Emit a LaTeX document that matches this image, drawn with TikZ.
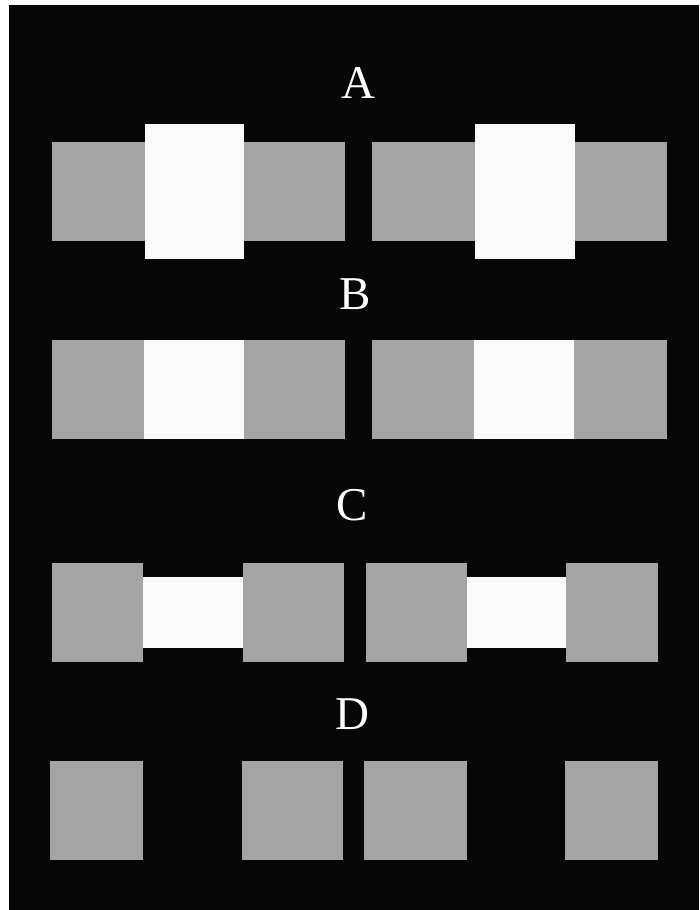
\documentclass[tikz,border=0pt]{standalone}
\usepackage{fontspec}
\setmainfont{Liberation Serif}
\definecolor{bgdark}{HTML}{070707}
\definecolor{patchgray}{HTML}{A4A4A4}
\definecolor{barwhite}{HTML}{FAFAFA}

\begin{document}
\begin{tikzpicture}[
  x=1pt,y=-1pt,
  patch/.style={fill=patchgray,inner sep=0pt,minimum height=99pt},
  bar/.style={fill=barwhite,inner sep=0pt},
  lbl/.style={text=white,inner sep=0pt,font=\fontsize{47}{47}\selectfont}
]
\useasboundingbox (0,0) rectangle (699,910);
\fill[bgdark] (9,5) rectangle (699,910);

% A
\node[lbl] (la) at (358,83) {A};
\node[patch,minimum width=93pt]  (a1) at (98.5,191) {};
\node[patch,minimum width=102pt] (a2) at (294,191) {};
\node[patch,minimum width=103pt] (a3) at (423.5,191) {};
\node[patch,minimum width=93pt]  (a4) at (620.5,191) {};
\node[bar,minimum width=99pt,minimum height=135pt]  (aw1) at (194.5,191.5) {};
\node[bar,minimum width=100pt,minimum height=135pt] (aw2) at (525,191.5) {};

% B
\node[lbl] (lb) at (355,294) {B};
\node[patch,minimum width=92pt]  (b1) at (98,389.5) {};
\node[patch,minimum width=101pt] (b2) at (294,389.5) {};
\node[patch,minimum width=102pt] (b3) at (423,389.5) {};
\node[patch,minimum width=94pt]  (b4) at (620,389.5) {};
\node[bar,minimum width=100pt,minimum height=99pt] (bw1) at (193.5,389.5) {};
\node[bar,minimum width=100pt,minimum height=99pt] (bw2) at (524,389.5) {};

% C
\node[lbl] (lc) at (352,505) {C};
\node[patch,minimum width=91pt]  (c1) at (97,612.5) {};
\node[patch,minimum width=101pt] (c2) at (293,612.5) {};
\node[patch,minimum width=101pt] (c3) at (416,612) {};
\node[patch,minimum width=92pt]  (c4) at (612,612) {};
\node[bar,minimum width=100pt,minimum height=71pt] (cw1) at (192.5,612.5) {};
\node[bar,minimum width=99pt,minimum height=71pt]  (cw2) at (516.5,612) {};

% D
\node[lbl] (ld) at (352,714) {D};
\node[patch,minimum width=93pt]  (d1) at (96.5,810.5) {};
\node[patch,minimum width=101pt] (d2) at (292.5,810.5) {};
\node[patch,minimum width=103pt] (d3) at (415.5,810.5) {};
\node[patch,minimum width=93pt]  (d4) at (611.5,810.5) {};
\end{tikzpicture}
\end{document}
